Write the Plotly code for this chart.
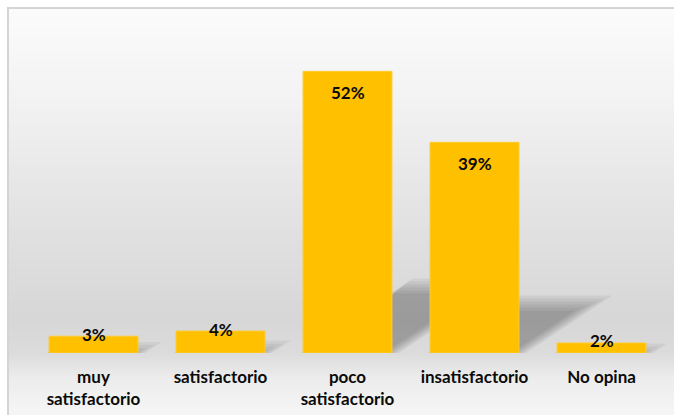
import plotly.graph_objects as go

categories = ["muy<br>satisfactorio", "satisfactorio", "poco<br>satisfactorio", "insatisfactorio", "No opina"]
values = [3.1, 4.05, 52.0, 38.9, 1.85]
labels = ["3%", "4%", "52%", "39%", "2%"]

W, H = 674, 415
ML, MR, MT, MB = 30, 9, 28, 62
PW, PH = W - ML - MR, H - MT - MB
YMAX = 60.0
PX_X = PW / len(values)   # pixels per category unit
PX_Y = PH / YMAX          # pixels per value unit
FX, FY = 8, 8             # chart frame origin (page pixels)


def px_x(px):
    return (px - ML) / PW


def px_y(py):
    return (H - MB - py) / PH


def hexc(c):
    return tuple(int(c[i:i + 2], 16) for i in (1, 3, 5))


stops = [(8, "#fcfcfc"), (100, "#f3f3f3"), (200, "#e5e5e5"), (320, "#d7d7d7"),
         (353, "#dcdcdc"), (380, "#ededed"), (415, "#f6f6f6")]

shapes = []
step = 3
y = FY
while y < H:
    y2 = min(y + step, H)
    mid = (y + y2) / 2
    for (a, ca), (b, cb) in zip(stops[:-1], stops[1:]):
        if a <= mid <= b:
            t = (mid - a) / (b - a)
            r1, g1, b1 = hexc(ca)
            r2, g2, b2 = hexc(cb)
            col = "rgb(%d,%d,%d)" % (r1 + (r2 - r1) * t, g1 + (g2 - g1) * t, b1 + (b2 - b1) * t)
            break
    shapes.append(dict(type="rect", xref="paper", yref="paper", layer="below",
                       x0=px_x(FX), x1=px_x(W + 2), y0=px_y(y2 + 0.5), y1=px_y(y - 0.5),
                       fillcolor=col, line=dict(width=0)))
    y = y2

# soft perspective shadows behind bars
bw = 0.35
for i, v in enumerate(values):
    h = 0.24 * v
    d = 1.5 * h * PX_Y / PX_X
    for e in [-8, -5, -2, 1, 4, 7]:
        ex = e / PX_X
        ey = e / PX_Y
        hh = max(h + ey, 0)
        dd = d * (hh / h) if h > 0 else 0
        x0 = i - bw - ex * 0.3
        x1 = i + bw + ex
        path = "M %f,0 L %f,0 L %f,%f L %f,%f Z" % (x0, x1, x1 + dd, hh, x0 + dd, hh)
        shapes.append(dict(type="path", xref="x", yref="y", layer="below", path=path,
                           fillcolor="rgba(40,40,40,0.068)", line=dict(width=0)))

# chart border (left and top)
shapes.append(dict(type="line", xref="paper", yref="paper", x0=px_x(FX), x1=px_x(FX),
                   y0=px_y(H + 2), y1=px_y(FY - 0.5), line=dict(color="#d4d4d4", width=2)))
shapes.append(dict(type="line", xref="paper", yref="paper", x0=px_x(FX - 1), x1=px_x(W + 2),
                   y0=px_y(FY), y1=px_y(FY), line=dict(color="#d4d4d4", width=2)))

fig = go.Figure(go.Bar(x=list(range(len(values))), y=values, width=0.7,
                       marker=dict(color="#FFC000", line=dict(color="#FFCB33", width=1)),
                       hoverinfo="skip"))

FONT = "Lato, Liberation Sans, sans-serif"
annotations = []
for i, (v, lab) in enumerate(zip(values, labels)):
    annotations.append(dict(x=i, y=v, xref="x", yref="y", text="<b>%s</b>" % lab,
                            showarrow=False, yanchor="middle",
                            yshift=-21 if v > 10 else 2,
                            font=dict(family=FONT, size=17, color="#0a0a0a")))

fig.update_layout(
    width=W, height=H,
    margin=dict(l=ML, r=MR, t=MT, b=MB, pad=0, autoexpand=False),
    paper_bgcolor="white", plot_bgcolor="rgba(0,0,0,0)",
    shapes=shapes, annotations=annotations, showlegend=False,
    xaxis=dict(tickmode="array", tickvals=list(range(len(values))),
               ticktext=["<b>%s</b>" % c for c in categories],
               range=[-0.5, len(values) - 0.5], showgrid=False, zeroline=False,
               showline=False, ticks="", ticklabelstandoff=12, automargin=False,
               tickfont=dict(family=FONT, size=17, color="#0a0a0a")),
    yaxis=dict(range=[0, YMAX], visible=False, showgrid=False, zeroline=False,
               automargin=False),
)

fig.write_html("out.html", config={"displayModeBar": False},
               post_script="document.body.style.margin='0';document.body.style.overflow='hidden';")
